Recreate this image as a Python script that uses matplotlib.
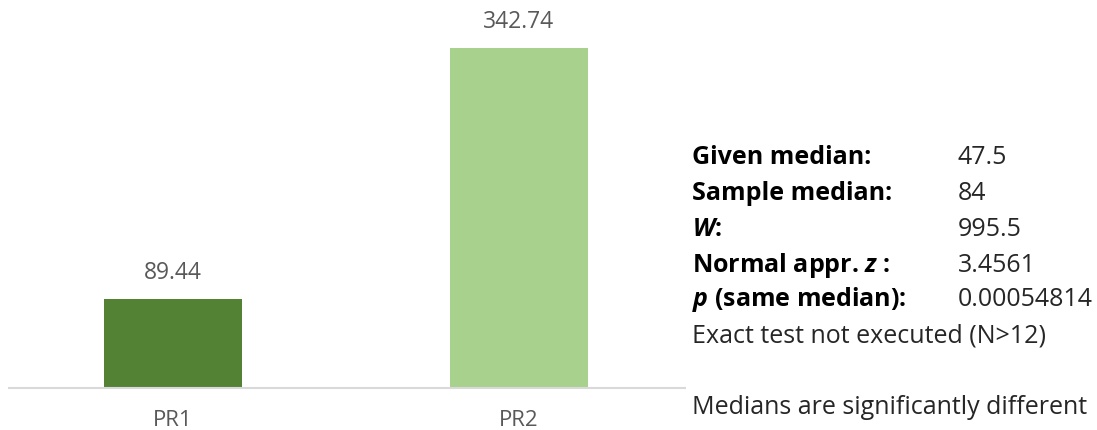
import numpy as np
import matplotlib.pyplot as plt

categories = ['PR1', 'PR2']
values = [89.44, 342.74]
bar_colors = ['#548235', '#A9D18E']

stat_labels = ['Given median:', 'Sample median:', r'$\bfit{W}$:', r'Normal appr. $\bfit{z}$ :', r'$\bfit{p}$ (same median):']
stat_values = ['47.5', '84', '995.5', '3.4561', '0.00054814']
note1 = 'Exact test not executed (N>12)'
note2 = 'Medians are significantly different'

plt.rcParams['font.family'] = ['Open Sans', 'DejaVu Sans']
plt.rcParams['mathtext.fontset'] = 'custom'
plt.rcParams['mathtext.bfit'] = 'Open Sans:italic:bold'

fig = plt.figure(figsize=(10.97, 4.3), dpi=100)
ax = fig.add_axes([8/1097, 0, 678/1097, 1])

x = np.arange(len(categories))
ax.bar(x, values, width=0.4, color=bar_colors)
for xi, v in zip(x, values):
    ax.text(xi, v + 26, '%.2f' % v, ha='center', va='center', fontsize=16.5, color='#595959')
    ax.text(xi, -33, categories[xi], ha='center', va='center', fontsize=16, color='#595959')

ax.set_xlim(-0.477, 1.483)
ax.set_ylim(-42.3, 390.7)
ax.axhline(0, color='#D9D9D9', lw=1.5)
ax.axis('off')

ys = [158, 194, 229, 265, 300]
for lab, val, yp in zip(stat_labels, stat_values, ys):
    fig.text(692/1097, 1 - yp/430, lab, fontsize=18, fontweight='bold', va='center', ha='left', color='black')
    fig.text(958/1097, 1 - yp/430, val, fontsize=18, va='center', ha='left', color='#262626')
fig.text(692/1097, 1 - 336/430, note1, fontsize=18, va='center', ha='left', color='#262626')
fig.text(692/1097, 1 - 407/430, note2, fontsize=18, va='center', ha='left', color='#262626')

fig.savefig('out.png', dpi=100)
